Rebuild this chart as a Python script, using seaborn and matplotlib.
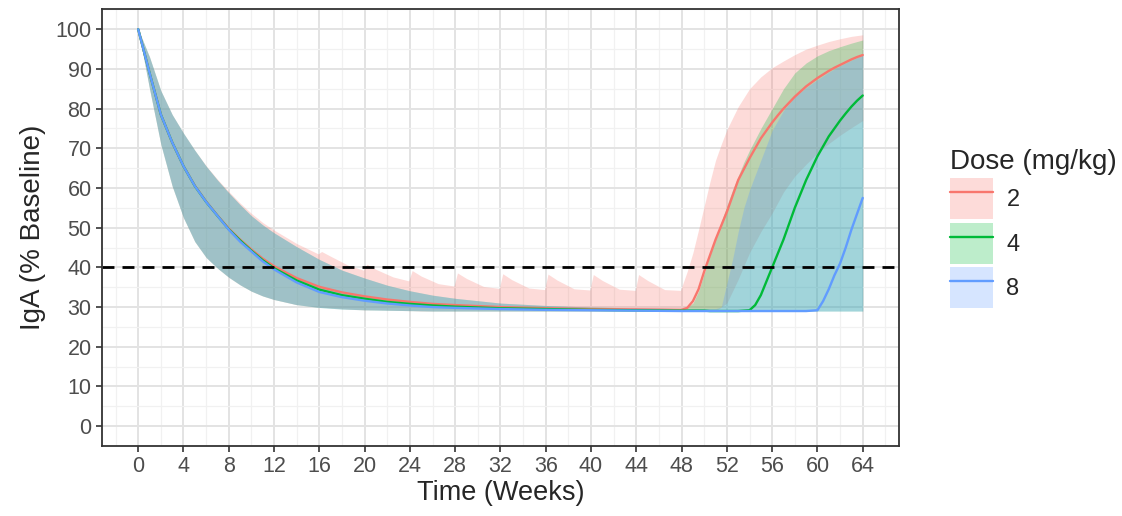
import numpy as np
import pandas as pd
import matplotlib
matplotlib.use('Agg')
import matplotlib.pyplot as plt
import seaborn as sns
from matplotlib.patches import Patch
from matplotlib.lines import Line2D
from matplotlib.ticker import MultipleLocator

sns.set_style('white')
plt.rcParams['font.family'] = ['Liberation Sans', 'DejaVu Sans']

# --- data ---
doses = ['2', '4', '8']
colors = {'2': '#F8766D', '4': '#00BA38', '8': '#619CFF'}

# median lines
weeks = [0, 1, 2, 3, 4, 5, 6, 7, 8, 9, 10, 11, 12, 14, 16, 18, 20, 22, 24, 26, 28,
         32, 36, 40, 44, 48, 48.5, 49, 49.5, 50, 50.5, 51, 51.5, 52, 53, 54,
         54.5, 55, 55.5, 56, 56.5, 57, 57.5, 58, 59, 60,
         60.5, 61, 61.5, 62, 62.5, 63, 63.5, 64]
median_2 = [100, 89, 78.5, 71.5, 65.5, 60.6, 56.6, 53.1, 49.8, 47, 44.5, 42.2, 40.3,
            37.3, 35.1, 33.7, 32.7, 31.9, 31.3, 30.8, 30.5,
            30.0, 29.7, 29.5, 29.4, 29.3,
            29.8, 31.5, 34.5, 39, 43, 47, 50.5, 54,
            62, 67.5,
            70, 72.5, 74.5, 76.5, 78.3, 80, 81.5, 83,
            85.6, 87.7,
            88.6, 89.5, 90.3, 91, 91.7, 92.4, 93, 93.5]
median_4 = [100, 89, 78.5, 71.5, 65.5, 60.5, 56.5, 53, 49.6, 46.8, 44.2, 41.8, 39.8,
            36.7, 34.4, 33, 32.1, 31.3, 30.8, 30.4, 30.1,
            29.7, 29.5, 29.3, 29.2, 29.1,
            29.1, 29.1, 29.1, 29.1, 29.0, 29.0, 29.0, 29.0,
            29.0, 29.2,
            30.5, 33, 36.5, 40, 43.5, 47, 51, 55,
            62, 68,
            70.5, 73, 75, 77, 78.8, 80.5, 82, 83.3]
median_8 = [100, 89, 78.5, 71.5, 65.5, 60.5, 56.5, 53, 49.5, 46.5, 44, 41.5, 39.5,
            36.2, 33.8, 32.5, 31.6, 30.9, 30.4, 30.0, 29.8,
            29.5, 29.3, 29.2, 29.1, 29.0,
            29.0, 29.0, 29.0, 29.0, 29.0, 29.0, 29.0, 29.0,
            29.0, 29.0,
            29.0, 29.0, 29.0, 29.0, 29.0, 29.0, 29.0, 29.0,
            29.0, 29.2,
            31.5, 34.5, 38, 41, 45, 49.5, 53.5, 57.5]

# dose 2 interval (dosing bumps every 4 weeks)
red_weeks = [0, 1, 2, 3, 4, 5, 6, 7, 8, 9, 10, 11, 12, 14,
             15.9, 16.2, 17, 18.5, 19.9, 20.2, 21, 22.5,
             23.9, 24.2, 25, 26.5, 27.9, 28.2, 29, 30.5,
             31.9, 32.2, 33, 34.5, 35.9, 36.2, 37, 38.5,
             39.9, 40.2, 41, 42.5, 43.9, 44.2, 45, 46.5,
             47.9, 48.5, 49, 49.5, 50, 50.5, 51, 51.5, 52, 53, 54, 55,
             56, 57, 58, 59, 60, 61, 62, 63, 64]
red_hi = [100, 93, 84.5, 78.5, 73.8, 69.5, 65.6, 62.2, 59.1, 56.2, 53.6, 51.3, 49.4, 46,
          43.4, 44.0, 42.8, 40.6, 39.3, 40.8, 39.5, 37.6,
          36.6, 39.2, 37.8, 35.9, 35.3, 38.6, 37.2, 35.2,
          34.7, 38.4, 36.9, 34.8, 34.4, 38.3, 36.8, 34.6,
          34.3, 38.2, 36.7, 34.5, 34.2, 38.2, 36.7, 34.4,
          34.2, 39, 43.7, 49.5, 55.5, 61.5, 67, 71, 74.7, 80.5, 85, 88,
          90.3, 92, 93.6, 95, 96, 96.9, 97.6, 98.2, 98.6]
red_lo = [100, 85, 71, 60.5, 52.5, 46.5, 42.5, 39.8, 37.5, 35.6, 34, 32.8, 31.9, 30.6,
          30, 30, 29.8, 29.5, 29.3, 29.3, 29.3, 29.2,
          29.1, 29.1, 29.0, 29.0, 29.0, 29.0, 29.0, 29.0,
          29.0, 29.0, 29.0, 29.0, 29.0, 29.0, 29.0, 29.0,
          29.0, 29.0, 29.0, 29.0, 29.0, 29.0, 29.0, 29.0,
          29.0, 29.0, 29.0, 29.0, 29.0, 29.0, 29.0, 30, 31, 37, 43.7, 49,
          53.7, 59, 63, 66, 68.8, 71.2, 73.3, 75.2, 77]

# dose 4 and 8 intervals
band_weeks = [0, 1, 2, 3, 4, 5, 6, 7, 8, 9, 10, 11, 12, 14, 16, 18, 20, 22, 24, 26, 28,
              32, 36, 40, 44, 48, 48.5, 49, 49.5, 50, 50.5, 51, 51.5, 52, 52.5, 53, 53.5,
              54, 55, 56, 57, 58, 59, 60, 61, 62, 63, 64]
green_hi = [100, 93, 84.5, 78.5, 73.8, 69.5, 65.5, 62, 58.8, 55.8, 53, 50.7, 48.7,
            45.2, 42, 39.3, 37.3, 35.5, 34.1, 33, 32.2,
            31, 30.4, 30, 29.8, 29.6,
            30, 31, 34, 38.5, 43, 47.5, 51.5, 55.5, 59.5, 63, 66.5,
            69.5, 75, 80, 85, 89, 91.5, 93.3, 94.6, 95.6, 96.5, 97.3]
blue_hi = [100, 93, 84.5, 78.5, 73.8, 69.5, 65.5, 62, 58.8, 55.8, 53, 50.7, 48.7,
           45.2, 42, 39.3, 37.3, 35.5, 34.1, 33, 32.2,
           31, 30.4, 30, 29.8, 29.6,
           29.6, 29.6, 29.6, 29.6, 29.6, 29.6, 30, 36, 42, 49, 55,
           59.5, 67, 74.5, 79.5, 83, 85.3, 87.3, 89.2, 90.8, 92.2, 93.5]
low_band = [100, 85, 71, 60.5, 52.5, 46.5, 42.5, 39.8, 37.5, 35.6, 34, 32.8, 31.9,
            30.6, 29.9, 29.5, 29.3, 29.2, 29.1, 29.0, 29.0,
            29.0, 29.0, 29.0, 29.0, 29.0,
            29.0, 29.0, 29.0, 29.0, 29.0, 29.0, 29.0, 29.0, 29.0, 29.0, 29.0,
            29.0, 29.0, 29.0, 29.0, 29.0, 29.0, 29.0, 29.0, 29.0, 29.0, 29.0]

threshold = 40
x_ticks = list(range(0, 65, 4))
y_ticks = list(range(0, 101, 10))

df = pd.DataFrame({
    'week': weeks * 3,
    'iga': median_2 + median_4 + median_8,
    'dose': ['2'] * len(weeks) + ['4'] * len(weeks) + ['8'] * len(weeks),
})

fig = plt.figure(figsize=(11.22, 5.16), dpi=100)
ax = fig.add_axes([0.0909, 0.1357, 0.7103, 0.8461])

band_alpha = 0.26
ax.fill_between(red_weeks, red_lo, red_hi, color=colors['2'], alpha=band_alpha, lw=0)
ax.fill_between(band_weeks, low_band, green_hi, color=colors['4'], alpha=band_alpha, lw=0)
ax.fill_between(band_weeks, low_band, blue_hi, color=colors['8'], alpha=band_alpha + 0.04, lw=0)

sns.lineplot(data=df, x='week', y='iga', hue='dose', hue_order=doses,
             palette=colors, legend=False, lw=1.7, ax=ax, estimator=None)

ax.axhline(threshold, color='black', lw=2, ls=(0, (4.3, 2.9)))

ax.set_xlim(-3.2, 67.2)
ax.set_ylim(-5, 105)
ax.set_xticks(x_ticks)
ax.set_yticks(y_ticks)
ax.xaxis.set_minor_locator(MultipleLocator(2))
ax.yaxis.set_minor_locator(MultipleLocator(5))
ax.grid(which='major', color='#e3e3e3', lw=1.4)
ax.grid(which='minor', color='#f1f1f1', lw=0.9)
ax.set_axisbelow(True)
for s in ax.spines.values():
    s.set_color('#333333')
    s.set_linewidth(1.3)
ax.tick_params(which='major', length=4.5, width=1.2, color='#333333',
               labelsize=15.5, labelcolor='#4d4d4d', pad=3, bottom=True, left=True)
ax.tick_params(which='minor', length=0)

ax.set_xlabel('Time (Weeks)', fontsize=19.5, labelpad=2)
ax.set_ylabel('IgA (% Baseline)', fontsize=20, labelpad=7)

handles = [(Patch(facecolor=colors[d], alpha=band_alpha, edgecolor='none'),
            Line2D([], [], color=colors[d], lw=1.7)) for d in doses]
leg = fig.legend(handles, doses, title='Dose (mg/kg)', loc='upper left',
                 bbox_to_anchor=(0.836, 0.735), frameon=False, fontsize=17,
                 title_fontsize=20, handlelength=1.85, handleheight=2.3,
                 labelspacing=0.15, handletextpad=0.55, borderpad=0,
                 alignment='left')

fig.savefig('out.png', dpi=100)
